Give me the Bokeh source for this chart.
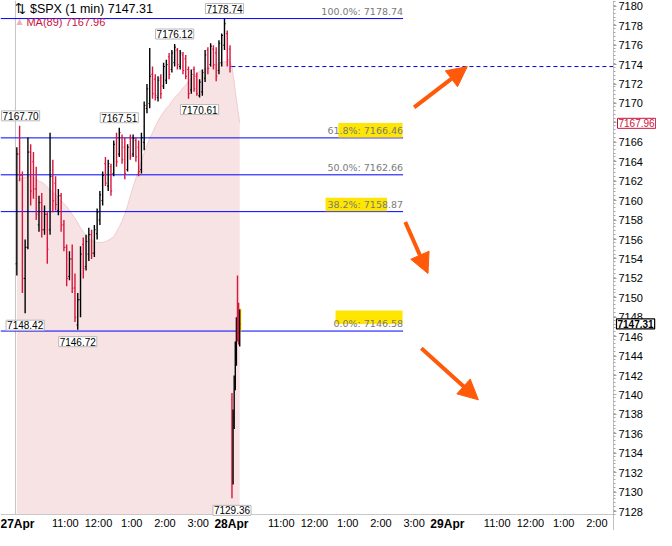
from bokeh.plotting import figure
from bokeh.models import (Range1d, FixedTicker, Label, ColumnDataSource, Arrow, NormalHead)
from bokeh.core.properties import value
from bokeh.embed import file_html
from bokeh.resources import INLINE

# ---------------- data ----------------
session_minutes = 390
day1_bar_minutes = 5
day2_bar_minutes = 2

day1_open = [7153.5, 7164.8, 7162.6, 7152.0, 7155.2, 7165.0, 7164.0, 7161.2, 7157.5, 7159.8,
             7157.0, 7158.6, 7157.0, 7162.5, 7161.8, 7159.0, 7160.5, 7157.5, 7155.2, 7152.2,
             7154.0, 7151.0, 7147.2, 7149.8, 7155.5, 7153.2, 7154.5, 7156.5, 7154.6, 7156.6,
             7158.0, 7160.0, 7163.8, 7161.5, 7163.5, 7162.8, 7166.5, 7164.8, 7166.5, 7165.5,
             7163.2, 7166.5, 7164.8, 7166.2, 7165.5, 7163.2, 7166.0, 7169.5, 7170.0, 7173.0,
             7172.5, 7170.6, 7172.6, 7171.8, 7172.4, 7174.8, 7173.5, 7174.2, 7175.5, 7173.8,
             7175.0, 7174.6, 7173.5, 7171.4, 7173.5, 7172.8, 7170.8, 7171.2, 7172.6, 7175.5,
             7174.0, 7175.6, 7175.2, 7173.4, 7174.2, 7176.0, 7177.2, 7175.6]
day1_high = [7165.5, 7167.7, 7163.0, 7156.0, 7166.5, 7165.8, 7165.0, 7163.5, 7160.5, 7160.8,
             7159.5, 7158.8, 7167.0, 7164.2, 7162.5, 7161.2, 7160.8, 7158.0, 7155.5, 7154.8,
             7155.5, 7152.5, 7150.5, 7155.3, 7156.2, 7156.5, 7157.2, 7157.0, 7157.5, 7159.2,
             7161.0, 7163.0, 7164.5, 7164.2, 7163.8, 7166.2, 7167.0, 7167.51, 7166.8, 7166.5,
             7165.8, 7166.8, 7166.8, 7166.5, 7166.2, 7167.0, 7170.2, 7172.0, 7175.7, 7173.8,
             7173.0, 7172.8, 7173.0, 7174.2, 7174.5, 7175.2, 7175.5, 7176.12, 7175.7, 7175.5,
             7175.3, 7175.0, 7173.8, 7173.5, 7173.8, 7173.2, 7172.5, 7173.5, 7175.5, 7175.8,
             7176.2, 7176.0, 7175.8, 7176.5, 7177.2, 7178.74, 7177.5, 7176.0]
day1_low = [7152.3, 7162.0, 7150.5, 7148.42, 7155.0, 7159.5, 7160.2, 7158.0, 7156.8, 7156.2,
            7156.5, 7153.5, 7156.5, 7158.8, 7159.0, 7158.5, 7156.8, 7154.8, 7151.2, 7151.8,
            7150.5, 7147.5, 7146.72, 7148.0, 7152.0, 7152.8, 7153.8, 7154.0, 7154.2, 7156.0,
            7157.5, 7159.5, 7161.5, 7161.0, 7160.5, 7162.5, 7163.5, 7164.5, 7163.8, 7162.2,
            7163.0, 7164.2, 7164.5, 7164.0, 7162.5, 7162.8, 7165.2, 7169.0, 7169.5, 7170.5,
            7170.3, 7170.2, 7170.5, 7171.5, 7172.0, 7172.5, 7173.2, 7173.8, 7173.5, 7173.5,
            7173.0, 7172.5, 7170.5, 7171.0, 7171.2, 7170.8, 7170.61, 7170.8, 7172.2, 7173.0,
            7173.8, 7173.5, 7172.3, 7173.0, 7173.8, 7175.5, 7173.8, 7173.2]
day1_close = [7164.8, 7162.6, 7152.0, 7155.2, 7165.0, 7161.0, 7161.2, 7158.6, 7159.8, 7157.0,
              7158.6, 7155.0, 7162.5, 7160.0, 7159.6, 7160.5, 7157.5, 7155.2, 7152.0, 7154.0,
              7151.0, 7148.0, 7149.8, 7154.5, 7153.0, 7155.8, 7156.5, 7154.6, 7157.0, 7158.8,
              7160.6, 7162.6, 7161.8, 7163.8, 7161.0, 7165.8, 7164.0, 7167.0, 7164.2, 7162.8,
              7165.5, 7164.6, 7166.4, 7164.5, 7163.0, 7166.5, 7169.8, 7171.5, 7172.8, 7171.0,
              7170.8, 7172.4, 7171.0, 7173.8, 7174.0, 7173.0, 7175.2, 7175.8, 7174.0, 7175.2,
              7173.4, 7172.8, 7171.0, 7173.0, 7171.5, 7171.0, 7172.2, 7173.2, 7175.0, 7173.6,
              7175.9, 7174.0, 7172.8, 7176.2, 7177.0, 7178.2, 7174.5, 7173.8]

day2_open = [7139.5, 7131.0, 7137.5, 7141.0, 7144.0, 7150.5, 7148.8, 7145.8]
day2_high = [7140.2, 7138.5, 7142.0, 7145.5, 7148.0, 7152.3, 7149.5, 7148.8]
day2_low = [7129.36, 7130.8, 7136.5, 7140.5, 7143.0, 7145.5, 7145.2, 7145.0]
day2_close = [7131.0, 7137.8, 7141.5, 7145.0, 7147.5, 7146.5, 7146.0, 7147.31]

ma_day1 = [7162.0, 7162.2, 7162.3, 7162.4, 7162.5, 7162.5, 7162.4, 7162.2, 7162.0, 7161.9,
           7161.7, 7161.4, 7161.1, 7160.9, 7160.6, 7160.3, 7160.0, 7159.7, 7159.4, 7159.0,
           7158.6, 7158.2, 7157.7, 7157.2, 7156.8, 7156.5, 7156.1, 7155.9, 7155.8, 7155.7,
           7155.7, 7155.7, 7155.8, 7155.9, 7156.1, 7156.3, 7156.8, 7157.3, 7157.9, 7158.6,
           7159.5, 7160.5, 7161.4, 7162.3, 7163.2, 7164.1, 7164.9, 7165.7, 7166.4, 7167.0,
           7167.6, 7168.2, 7168.7, 7169.1, 7169.5, 7169.8, 7170.2, 7170.6, 7170.9, 7171.2,
           7171.6, 7171.9, 7172.3, 7172.6, 7172.9, 7173.1, 7173.3, 7173.4, 7173.6, 7173.7,
           7173.8, 7173.9, 7174.0, 7174.1, 7174.2, 7174.3, 7174.3, 7174.3]
ma_day2 = [7173.8, 7173.0, 7172.2, 7171.2, 7170.4, 7169.6, 7168.8, 7167.96]

fib_pct = ["100.0%", "61.8%", "50.0%", "38.2%", "0.0%"]
fib_level = [7178.74, 7166.46, 7162.66, 7158.87, 7146.58]
fib_end_minute = 700

prev_close = 7173.8
last_price = 7147.31
ma_last = 7167.96
symbol_title = "⇅ $SPX (1 min) 7147.31"
ma_title = "MA(89) 7167.96"

ext_day = [1, 1, 1, 1, 1, 1, 1, 2]
ext_bar = [1, 3, 22, 37, 57, 66, 75, 0]
ext_value = [7167.70, 7148.42, 7146.72, 7167.51, 7176.12, 7170.61, 7178.74, 7129.36]
ext_side = ["above", "below", "below", "above", "above", "below", "above", "below"]

date_labels = ["27Apr", "28Apr", "29Apr"]
time_tick_offsets = [90, 150, 210, 270, 330]
time_tick_labels = ["11:00", "12:00", "1:00", "2:00", "3:00"]
price_ticks = list(range(7128, 7181, 2))

# highlighter strokes (minutes, price)
hl_left = [583, 560, 578, 402]
hl_right = [699, 671, 699, 408]
hl_bottom = [7166.5, 7158.9, 7147.3, 7146.5]
hl_top = [7168.0, 7160.3, 7148.7, 7148.9]

# drawn arrows (minutes, price)
arrow_x0 = [720, 704, 733]
arrow_y0 = [7169.6, 7157.8, 7144.8]
arrow_x1 = [816, 745, 836]
arrow_y1 = [7173.8, 7152.5, 7139.5]

# ---------------- layout ----------------
W, H = 656, 530
DATA_W, DATA_H = 613, 514          # plotting area inside the canvas
X0, XA = -27, 1080                 # visible time span (minutes from 27Apr 9:30)
Y0, Y1 = 7127.7, 7180.6            # visible price span
XR = X0 + (XA - X0) * W / DATA_W   # canvas extends past the axes
YB = Y1 - (Y1 - Y0) * H / DATA_H

p = figure(width=W, height=H, x_range=Range1d(X0, XR), y_range=Range1d(YB, Y1),
           y_axis_location="right", output_backend="svg", toolbar_location=None,
           min_border=0, min_border_left=0, min_border_right=0,
           min_border_top=0, min_border_bottom=0)
p.xgrid.grid_line_color = None
p.ygrid.grid_line_color = None
p.outline_line_color = None
p.background_fill_color = "white"
p.border_fill_color = "white"

# axes (fixed inside canvas so that labels beside them are not clipped)
xa = p.xaxis[0]
xa.fixed_location = Y0
xa.bounds = (X0, XA)
time_ticks = []
overrides = {}
for d in range(3):
    for off, lab in zip(time_tick_offsets, time_tick_labels):
        t = d * session_minutes + off
        if t < XA:
            time_ticks.append(t)
            overrides[t] = lab
xa.ticker = FixedTicker(ticks=time_ticks)
xa.major_label_overrides = overrides
xa.axis_line_color = "#C8C8C8"
xa.major_tick_line_color = None
xa.major_tick_out = 0
xa.major_tick_in = 0
xa.minor_tick_line_color = None
xa.minor_tick_out = 0
xa.major_label_standoff = 2
xa.major_label_text_font = "Liberation Sans"
xa.major_label_text_font_size = "11px"
xa.major_label_text_color = "#000000"

ya = p.yaxis[0]
ya.fixed_location = XA
minor = [round(Y0 + 0.4 * k, 1) for k in range(0, 133)]
ya.ticker = FixedTicker(ticks=price_ticks, minor_ticks=minor)
ya.axis_line_color = "#C0C0C0"
ya.major_tick_line_color = "#A0A0A0"
ya.major_tick_out = 3
ya.major_tick_in = 0
ya.minor_tick_line_color = "#A8A8A8"
ya.minor_tick_out = 2
ya.minor_tick_in = 0
ya.major_label_standoff = 2
ya.major_label_text_font = "Liberation Sans"
ya.major_label_text_font_size = "11px"
ya.major_label_text_color = "#000000"

# bar positions
d1x = [i * day1_bar_minutes + day1_bar_minutes / 2 for i in range(len(day1_high))]
d2x = [session_minutes + j * day2_bar_minutes + day2_bar_minutes / 2 for j in range(len(day2_high))]

# MA(89) shaded area
ma_x = d1x + d2x
ma_y = ma_day1 + ma_day2
p.varea(x=ma_x, y1=[Y0] * len(ma_x), y2=ma_y, fill_color="#F7E3E4")
p.line(x=ma_x, y=ma_y, line_color="#EFCDD1", line_width=1)

# session separator
p.segment(x0=[0], x1=[0], y0=[Y0], y1=[Y1], line_color="#C4C4C4", line_width=1)

# fib lines
p.segment(x0=[X0] * len(fib_level), x1=[fib_end_minute] * len(fib_level),
          y0=fib_level, y1=fib_level, line_color="#0000FF", line_width=1)

# previous close dashed line
p.segment(x0=[session_minutes], x1=[XA], y0=[prev_close], y1=[prev_close],
          line_color="#0000E0", line_width=1, line_dash="4 3")

# highlighter
p.quad(left=hl_left, right=hl_right, bottom=hl_bottom, top=hl_top,
       fill_color="#FFE600", line_color=None)

# OHLC bars
def ohlc(xs, o, h, l, c, tick):
    cols = ["#000000" if cc >= oo else "#D8163C" for oo, cc in zip(o, c)]
    src = ColumnDataSource(dict(x=xs, o=o, h=h, l=l, c=c, col=cols,
                                xl=[x - tick for x in xs], xr=[x + tick for x in xs]))
    p.segment(x0="x", x1="x", y0="l", y1="h", source=src, line_color="col", line_width=1.4)
    p.segment(x0="xl", x1="x", y0="o", y1="o", source=src, line_color="col", line_width=1)
    p.segment(x0="x", x1="xr", y0="c", y1="c", source=src, line_color="col", line_width=1)

ohlc(d1x, day1_open, day1_high, day1_low, day1_close, 2.2)
ohlc(d2x, day2_open, day2_high, day2_low, day2_close, 0.9)

# fib texts
fib_text = [f"{pc}: {lv:.2f}" for pc, lv in zip(fib_pct, fib_level)]
p.text(x=[fib_end_minute] * len(fib_level), y=fib_level, text=fib_text,
       text_font=value("DejaVu Sans"), text_font_size="9.5px", text_color="#7A7A7A",
       text_align="right", text_baseline="bottom", y_offset=-2)

# extreme callouts
ext_dx = [1, 0, 0, 0, 0, 0, 0, 0]
for dday, b, v, side, dx in zip(ext_day, ext_bar, ext_value, ext_side, ext_dx):
    xx = d1x[b] if dday == 1 else d2x[b]
    above = side == "above"
    p.add_layout(Label(x=xx, y=v, text=f"{v:.2f}", text_align="center",
                       text_baseline="middle", x_offset=dx, y_offset=10 if above else -12,
                       text_font="Liberation Sans", text_font_size="10px", text_color="#000000",
                       background_fill_color="white", border_line_color="#B8B8B8",
                       border_line_width=1, padding=1))

# arrows
for xa0, ya0, xa1, ya1 in zip(arrow_x0, arrow_y0, arrow_x1, arrow_y1):
    p.add_layout(Arrow(x_start=xa0, y_start=ya0, x_end=xa1, y_end=ya1,
                       line_color="#FF5A0A", line_width=4,
                       end=NormalHead(size=20, fill_color="#FF5A0A", line_color="#FF5A0A")))

# title legend
p.add_layout(Label(x=0, y=Y1, text=symbol_title, y_offset=-8,
                   text_baseline="middle", text_align="left",
                   text_font="Liberation Sans", text_font_size="12.5px", text_color="#000000"))
p.add_layout(Label(x=0, y=Y1, text="▲", x_offset=1, y_offset=-21,
                   text_baseline="middle", text_align="left",
                   text_font="DejaVu Sans", text_font_size="8px", text_color="#F0B0B8"))
p.add_layout(Label(x=0, y=Y1, text=ma_title, x_offset=11, y_offset=-21,
                   text_baseline="middle", text_align="left",
                   text_font="Liberation Sans", text_font_size="11px", text_color="#C8143C"))

# right-axis price tags
p.add_layout(Label(x=XA, y=ma_last, text=f"{ma_last:.2f}", x_offset=4,
                   text_baseline="middle", text_align="left",
                   text_font="Liberation Sans", text_font_size="10px", text_color="#C8143C",
                   background_fill_color="white", border_line_color="#C8143C",
                   border_line_width=1, padding=1))
p.add_layout(Label(x=XA, y=last_price, text=f"{last_price:.2f}", x_offset=3,
                   text_baseline="middle", text_align="left",
                   text_font="Liberation Sans", text_font_size="10px", text_font_style="bold",
                   text_color="#000000",
                   background_fill_color="white", border_line_color="#000000",
                   border_line_width=1.2, padding=1))

# date labels (bold)
for d, lab in enumerate(date_labels):
    xx = d * session_minutes
    left = xx <= X0 + 30
    p.add_layout(Label(x=X0 if left else xx, y=Y0, text=lab, y_offset=-2,
                       text_baseline="top", text_align="left" if left else "center",
                       text_font="Liberation Sans", text_font_size="12px",
                       text_font_style="bold", text_color="#000000"))

open("out.html", "w").write(file_html(p, INLINE))
